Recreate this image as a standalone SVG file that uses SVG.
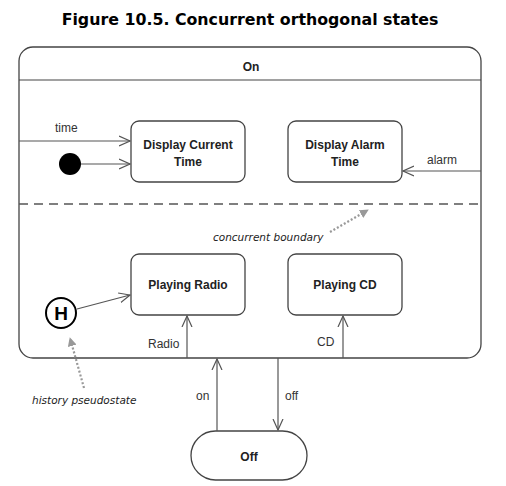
<svg xmlns="http://www.w3.org/2000/svg" width="506" height="486" viewBox="0 0 506 486">
<style>
.title{font-family:"DejaVu Sans",Verdana,sans-serif;font-weight:bold;font-size:15.8px;fill:#000}
.node{fill:#fff;stroke:#444;stroke-width:1.3}
.lbl{font-family:"Liberation Sans",Arial,sans-serif;font-weight:bold;font-size:12px;fill:#222;text-anchor:middle}
.ev{font-family:"Liberation Sans",Arial,sans-serif;font-size:12px;fill:#333}
.note{font-family:"DejaVu Sans",sans-serif;font-style:italic;font-size:10.5px;fill:#222}
.tr{fill:none;stroke:#555;stroke-width:1.2}
.dot{fill:none;stroke:#999;stroke-width:2.2;stroke-dasharray:2 2}
</style>
<defs>
<marker id="open" viewBox="0 0 12 12" refX="11" refY="6" markerWidth="12" markerHeight="12" markerUnits="userSpaceOnUse" orient="auto">
<path d="M0,1 L11,6 L0,11" fill="none" stroke="#555" stroke-width="1.2"/>
</marker>
<marker id="grayhead" viewBox="0 0 10 10" refX="9" refY="5" markerWidth="9" markerHeight="9" markerUnits="userSpaceOnUse" orient="auto">
<path d="M0,0 L10,5 L0,10 Z" fill="#999"/>
</marker>
</defs>
<text class="title" x="250" y="25" text-anchor="middle">Figure 10.5. Concurrent orthogonal states</text>

<g id="On">
<rect class="node" x="19" y="47" width="462" height="311" rx="14"/>
<line x1="19" y1="80" x2="481" y2="80" stroke="#444" stroke-width="1.2"/>
<text class="lbl" x="251" y="71">On</text>
<line x1="19" y1="204" x2="481" y2="204" stroke="#555" stroke-width="1.5" stroke-dasharray="9 6"/>
</g>

<g id="initial"><circle cx="70" cy="164" r="11" fill="#000"/></g>

<g id="DisplayCurrentTime">
<rect class="node" x="131" y="121" width="114" height="61" rx="8"/>
<text class="lbl" x="188" y="149">Display Current</text>
<text class="lbl" x="188" y="166">Time</text>
</g>
<g id="DisplayAlarmTime">
<rect class="node" x="288" y="121" width="114" height="61" rx="8"/>
<text class="lbl" x="345" y="149">Display Alarm</text>
<text class="lbl" x="345" y="166">Time</text>
</g>
<g id="PlayingRadio">
<rect class="node" x="131" y="254" width="114" height="61" rx="8"/>
<text class="lbl" x="188" y="289">Playing Radio</text>
</g>
<g id="PlayingCD">
<rect class="node" x="288" y="254" width="114" height="61" rx="8"/>
<text class="lbl" x="345" y="289">Playing CD</text>
</g>
<g id="History">
<circle cx="61" cy="313" r="15" fill="#fff" stroke="#000" stroke-width="2"/>
<text x="61" y="320" text-anchor="middle" font-family="Liberation Sans,Arial,sans-serif" font-weight="bold" font-size="19" fill="#000">H</text>
</g>
<g id="Off">
<rect class="node" x="191" y="431" width="116" height="49" rx="24.5"/>
<text class="lbl" x="249" y="461">Off</text>
</g>

<g id="connectors">
<line class="tr" x1="19" y1="141" x2="130" y2="141" marker-end="url(#open)"/>
<text class="ev" x="55" y="132">time</text>
<line class="tr" x1="81" y1="164" x2="130" y2="164" marker-end="url(#open)"/>
<line class="tr" x1="481" y1="171" x2="403" y2="171" marker-end="url(#open)"/>
<text class="ev" x="427" y="164">alarm</text>
<line class="tr" x1="77" y1="309" x2="130" y2="295" marker-end="url(#open)"/>
<line class="tr" x1="187" y1="358" x2="187" y2="316" marker-end="url(#open)"/>
<text class="ev" x="148" y="348">Radio</text>
<line class="tr" x1="343" y1="358" x2="343" y2="316" marker-end="url(#open)"/>
<text class="ev" x="317" y="346">CD</text>
<line class="tr" x1="217" y1="431" x2="217" y2="359" marker-end="url(#open)"/>
<text class="ev" x="196" y="400">on</text>
<line class="tr" x1="278" y1="358" x2="278" y2="430" marker-end="url(#open)"/>
<text class="ev" x="285" y="400">off</text>
<line class="dot" x1="330" y1="232" x2="368" y2="210" marker-end="url(#grayhead)"/>
<text class="note" x="213" y="241">concurrent boundary</text>
<line class="dot" x1="84" y1="388" x2="70" y2="338" marker-end="url(#grayhead)"/>
<text class="note" x="32" y="404">history pseudostate</text>
</g>
</svg>
